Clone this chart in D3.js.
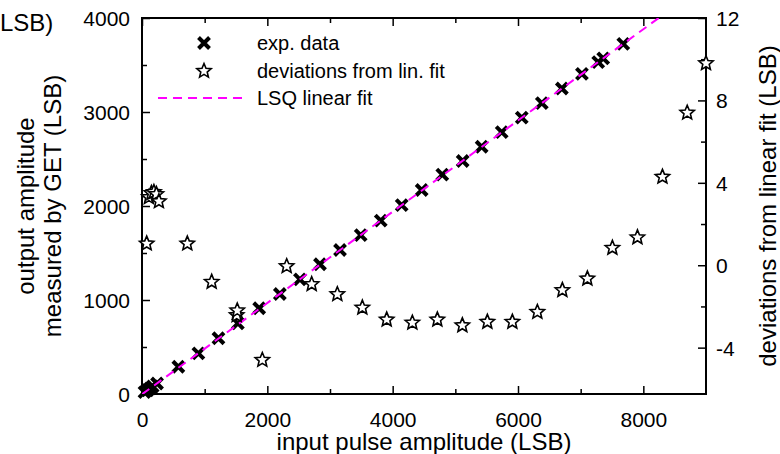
<!DOCTYPE html>
<html>
<head>
<meta charset="utf-8">
<script src="https://cdn.jsdelivr.net/npm/d3@7"></script>
<style>
  html, body { margin: 0; padding: 0; background: #fff; }
  svg { display: block; font-family: "Liberation Sans", Arial, sans-serif; }
</style>
</head>
<body>
<svg id="chart" width="780" height="454"></svg>
<script>
// measured response: input pulse amplitude vs. output amplitude (LSB)
const expInput  = [40, 90, 130, 170, 240, 580, 900, 1220, 1530, 1870, 2200, 2520, 2840, 3160, 3490, 3810, 4144, 4463, 4792, 5117, 5420, 5740, 6060, 6380, 6700, 7020, 7280, 7360, 7680];
const expOutput = [20, 40, 60, 80, 112, 290, 433, 593, 752, 912, 1064, 1220, 1380, 1532, 1691, 1844, 2010, 2170, 2333, 2479, 2630, 2785, 2940, 3095, 3250, 3405, 3530, 3570, 3725];

// deviations of the measured points from the linear fit (LSB)
const devInput = [75, 110, 150, 190, 230, 270, 723, 1112, 1511, 1520, 1920, 2309, 2708, 3117, 3516, 3905, 4314, 4713, 5112, 5511, 5910, 6309, 6708, 7107, 7506, 7906, 8305, 8700, 9000];
const devValue = [1.05, 3.3, 3.5, 3.55, 3.45, 3.1, 1.05, -0.81, -2.43, -2.2, -4.6, -0.05, -0.92, -1.41, -2.06, -2.64, -2.79, -2.64, -2.92, -2.75, -2.75, -2.27, -1.21, -0.65, 0.84, 1.35, 4.29, 7.4, 9.8];

// least-squares linear fit: output = slope * input + intercept
const fitSlope = 0.4855;
const fitIntercept = -3;

const xTicks = [0, 2000, 4000, 6000, 8000];
const yTicks = [0, 1000, 2000, 3000, 4000];
const y2Ticks = [-4, 0, 4, 8, 12];

const legendLabels = ["exp. data", "deviations from lin. fit", "LSQ linear fit"];

const W = 780, H = 454;
const margin = { left: 142, right: 74, top: 18, bottom: 60 };
const plotW = W - margin.left - margin.right;
const plotH = H - margin.top - margin.bottom;

const svg = d3.select("#chart");

const x = d3.scaleLinear().domain([0, 9000]).range([margin.left, margin.left + plotW]);
const y = d3.scaleLinear().domain([0, 4000]).range([margin.top + plotH, margin.top]);
const y2 = d3.scaleLinear().domain([-6.25, 12]).range([margin.top + plotH, margin.top]);

const tickFont = 21;
const labelFont = 24;

// bottom axis (ticks inward)
const gx = svg.append("g").attr("transform", `translate(0,${margin.top + plotH})`)
  .call(d3.axisBottom(x).tickValues(xTicks).tickSizeInner(-8).tickSizeOuter(0).tickFormat(""));
gx.selectAll(".tick")
  .append("text")
  .attr("y", 33)
  .attr("text-anchor", "middle")
  .attr("fill", "#000")
  .attr("font-size", tickFont)
  .text(d => d);
svg.append("g").attr("transform", `translate(0,${margin.top + plotH})`)
  .call(d3.axisBottom(x).tickValues(d3.range(1000, 9000, 2000)).tickSizeInner(-5).tickSizeOuter(0).tickFormat(""));

// top mirror ticks
svg.append("g").attr("transform", `translate(0,${margin.top})`)
  .call(d3.axisTop(x).tickValues(xTicks).tickSizeInner(-8).tickSizeOuter(0).tickFormat(""));
svg.append("g").attr("transform", `translate(0,${margin.top})`)
  .call(d3.axisTop(x).tickValues(d3.range(1000, 9000, 2000)).tickSizeInner(-5).tickSizeOuter(0).tickFormat(""));

// left axis
const gy = svg.append("g").attr("transform", `translate(${margin.left},0)`)
  .call(d3.axisLeft(y).tickValues(yTicks).tickSizeInner(-8).tickSizeOuter(0).tickFormat(""));
gy.selectAll(".tick")
  .append("text")
  .attr("x", -12)
  .attr("dy", "0.35em")
  .attr("text-anchor", "end")
  .attr("fill", "#000")
  .attr("font-size", tickFont)
  .text(d => d);
svg.append("g").attr("transform", `translate(${margin.left},0)`)
  .call(d3.axisLeft(y).tickValues(d3.range(500, 4000, 1000)).tickSizeInner(-5).tickSizeOuter(0).tickFormat(""));

// right axis (deviation scale)
const gy2 = svg.append("g").attr("transform", `translate(${margin.left + plotW},0)`)
  .call(d3.axisRight(y2).tickValues(y2Ticks).tickSizeInner(-8).tickSizeOuter(0).tickFormat(""));
gy2.selectAll(".tick")
  .append("text")
  .attr("x", 10)
  .attr("dy", "0.35em")
  .attr("text-anchor", "start")
  .attr("fill", "#000")
  .attr("font-size", tickFont)
  .text(d => d);
svg.append("g").attr("transform", `translate(${margin.left + plotW},0)`)
  .call(d3.axisRight(y2).tickValues([-2, 2, 6, 10]).tickSizeInner(-5).tickSizeOuter(0).tickFormat(""));

svg.selectAll(".domain").remove();
svg.selectAll(".tick line").attr("stroke", "#000").attr("stroke-width", 1.5);

// frame
svg.append("rect")
  .attr("x", margin.left).attr("y", margin.top)
  .attr("width", plotW).attr("height", plotH)
  .attr("fill", "none").attr("stroke", "#000").attr("stroke-width", 2);

// axis titles
svg.append("text")
  .attr("x", x(4500)).attr("y", 450)
  .attr("text-anchor", "middle").attr("font-size", labelFont)
  .text("input pulse amplitude (LSB)");

const cy = margin.top + plotH / 2;
svg.append("text")
  .attr("transform", `translate(34,${cy}) rotate(-90)`)
  .attr("text-anchor", "middle").attr("font-size", labelFont)
  .text("output amplitude");
svg.append("text")
  .attr("transform", `translate(61,${cy}) rotate(-90)`)
  .attr("text-anchor", "middle").attr("font-size", labelFont)
  .text("measured by GET (LSB)");
svg.append("text")
  .attr("transform", `translate(776,${cy}) rotate(-90)`)
  .attr("text-anchor", "middle").attr("font-size", labelFont)
  .text("deviations from linear fit (LSB)");

svg.append("text")
  .attr("x", 0).attr("y", 31)
  .attr("font-size", 24)
  .text("LSB)");

// marker shapes
function crossPath(s) {
  return `M${-s},${-s}L${s},${s}M${-s},${s}L${s},${-s}`;
}
function starPath(R) {
  const r = R * 0.45;
  const pts = [];
  for (let i = 0; i < 10; i++) {
    const a = -Math.PI / 2 + i * Math.PI / 5;
    const rad = i % 2 === 0 ? R : r;
    pts.push([rad * Math.cos(a), rad * Math.sin(a)]);
  }
  return "M" + pts.map(p => p.join(",")).join("L") + "Z";
}

const clipId = "plotClip";
svg.append("clipPath").attr("id", clipId)
  .append("rect").attr("x", margin.left).attr("y", margin.top).attr("width", plotW).attr("height", plotH);

const expData = expInput.map((v, i) => ({ x: v, y: expOutput[i] }));
const devData = devInput.map((v, i) => ({ x: v, y: devValue[i] }));

// experimental data crosses
svg.append("g").selectAll("path").data(expData).join("path")
  .attr("transform", d => `translate(${x(d.x)},${y(d.y)})`)
  .attr("d", crossPath(5.5))
  .attr("stroke", "#000").attr("stroke-width", 4).attr("fill", "none");

// fit line
const fitEnd = (4000 - fitIntercept) / fitSlope;
svg.append("line")
  .attr("clip-path", `url(#${clipId})`)
  .attr("x1", x(0)).attr("y1", y(fitIntercept))
  .attr("x2", x(fitEnd)).attr("y2", y(4000))
  .attr("stroke", "#ff00ff").attr("stroke-width", 2)
  .attr("stroke-dasharray", "9,6");

// deviation stars
svg.append("g").selectAll("path").data(devData).join("path")
  .attr("transform", d => `translate(${x(d.x)},${y2(d.y)})`)
  .attr("d", starPath(7.5))
  .attr("stroke", "#000").attr("stroke-width", 1.6).attr("fill", "#fff")
  .attr("stroke-linejoin", "miter");

// legend
const lg = svg.append("g");
const legendY = [43, 71, 98];
lg.append("path").attr("transform", `translate(204,${legendY[0]})`)
  .attr("d", crossPath(5.5)).attr("stroke", "#000").attr("stroke-width", 4);
lg.append("path").attr("transform", `translate(204,${legendY[1]})`)
  .attr("d", starPath(7.5)).attr("stroke", "#000").attr("stroke-width", 1.6).attr("fill", "#fff");
lg.append("line").attr("x1", 158).attr("x2", 243).attr("y1", legendY[2]).attr("y2", legendY[2])
  .attr("stroke", "#ff00ff").attr("stroke-width", 2).attr("stroke-dasharray", "9,6");
lg.selectAll("text").data(legendLabels).join("text")
  .attr("x", 257).attr("y", (d, i) => legendY[i] + 7)
  .attr("font-size", 20)
  .text(d => d);
</script>
</body>
</html>
